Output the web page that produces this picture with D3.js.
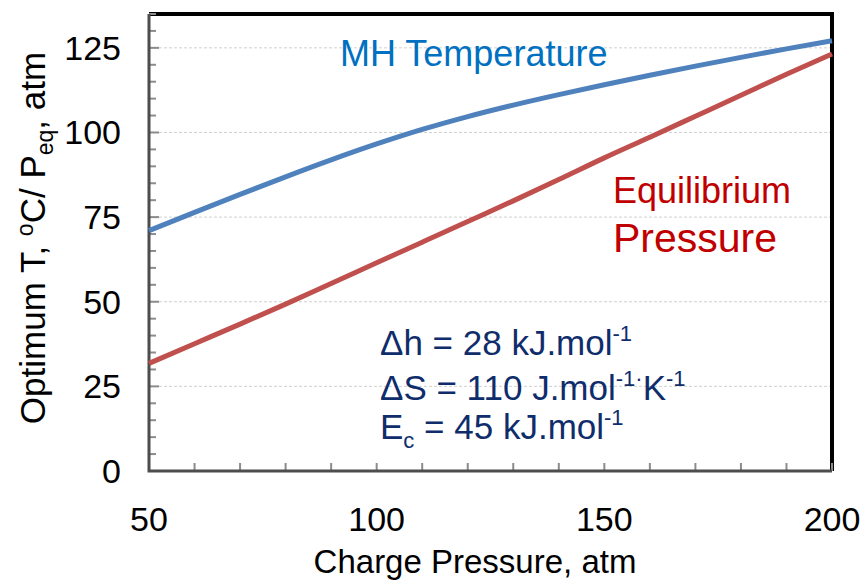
<!DOCTYPE html>
<meta charset="utf-8">
<script src="https://d3js.org/d3.v7.min.js"></script>
<style>
body { margin: 0; background: #fff; }
text { font-family: "Liberation Sans", Arial, sans-serif; }
</style>
<div id="chart"></div>
<script>

// values
var pressure = [50, 60, 70, 80, 90, 100, 110, 120, 130, 140, 150, 160, 170, 180, 190, 200];
var mhTemp   = [71, 76.4, 81.7, 86.9, 91.9, 96.6, 100.9, 104.7, 108.1, 111.2, 114.1, 116.9, 119.6, 122.2, 124.7, 127.1];
var eqPress  = [31.8, 37.6, 43.4, 49.3, 55.4, 61.5, 67.6, 73.7, 79.8, 86.1, 92.5, 98.6, 104.8, 111, 117.2, 123.2];
var xTicks = [50, 100, 150, 200];
var yTicks = [0, 25, 50, 75, 100, 125];

var width = 865, height = 581;
var margin = {top: 14, right: 33, bottom: 110, left: 149};

var svg = d3.select("#chart").append("svg")
  .attr("width", width)
  .attr("height", height);

var x = d3.scaleLinear().domain([50, 200]).range([margin.left, width - margin.right]);
var y = d3.scaleLinear().domain([0, 135]).range([height - margin.bottom, margin.top]);

// dashed gridlines
svg.append("g").selectAll("line")
  .data(yTicks.filter(function(d) { return d > 0; }))
  .enter().append("line")
    .attr("x1", x(50)).attr("x2", x(200))
    .attr("y1", function(d) { return y(d); })
    .attr("y2", function(d) { return y(d); })
    .attr("stroke", "#d0d0d0")
    .attr("stroke-width", 1)
    .attr("stroke-dasharray", "3,2");

// top / right frame
svg.append("path")
  .attr("d", "M" + x(50) + "," + y(135) + "H" + x(200) + "V" + y(0))
  .attr("fill", "none")
  .attr("stroke", "#000")
  .attr("stroke-width", 4);

// inward minor ticks
var xMinor = d3.range(50, 201, 10);
var yMinor = d3.range(0, 136, 5);

svg.append("g").selectAll("line")
  .data(xMinor)
  .enter().append("line")
    .attr("x1", function(d) { return x(d); })
    .attr("x2", function(d) { return x(d); })
    .attr("y1", y(0))
    .attr("y2", y(0) - 8)
    .attr("stroke", "#8c8c8c")
    .attr("stroke-width", 2);

svg.append("g").selectAll("line")
  .data(yMinor)
  .enter().append("line")
    .attr("x1", x(50))
    .attr("x2", function(d) { return x(50) + (d % 25 == 0 ? 10 : 7); })
    .attr("y1", function(d) { return y(d); })
    .attr("y2", function(d) { return y(d); })
    .attr("stroke", "#8c8c8c")
    .attr("stroke-width", 2);

// axis lines
svg.append("path")
  .attr("d", "M" + x(50) + "," + y(135) + "V" + y(0) + "H" + x(200))
  .attr("fill", "none")
  .attr("stroke", "#4d4d4d")
  .attr("stroke-width", 3);

// tick labels
svg.append("g").selectAll("text")
  .data(xTicks)
  .enter().append("text")
    .attr("x", function(d) { return x(d); })
    .attr("y", y(0) + 60)
    .attr("text-anchor", "middle")
    .style("font-size", "34px")
    .text(function(d) { return d; });

svg.append("g").selectAll("text")
  .data(yTicks)
  .enter().append("text")
    .attr("x", x(50) - 28)
    .attr("y", function(d) { return y(d) + 12; })
    .attr("text-anchor", "end")
    .style("font-size", "34px")
    .text(function(d) { return d; });

// axis titles
svg.append("text")
  .attr("x", 475)
  .attr("y", 573)
  .attr("text-anchor", "middle")
  .style("font-size", "33px")
  .text("Charge Pressure, atm");

var yt = svg.append("text")
  .attr("transform", "translate(45,238) rotate(-90)")
  .attr("text-anchor", "middle")
  .style("font-size", "35px");
yt.append("tspan").text("Optimum T, ");
yt.append("tspan").attr("dy", -12).style("font-size", "23px").text("o");
yt.append("tspan").attr("dy", 12).text("C/ P");
yt.append("tspan").attr("dy", 8).style("font-size", "23px").text("eq");
yt.append("tspan").attr("dy", -8).text(", atm");

// curves
var line = d3.line()
  .x(function(d) { return x(d[0]); })
  .y(function(d) { return y(d[1]); })
  .curve(d3.curveMonotoneX);

svg.append("path")
  .datum(d3.zip(pressure, eqPress))
  .attr("d", line)
  .attr("fill", "none")
  .attr("stroke", "#C0504D")
  .attr("stroke-width", 5);

svg.append("path")
  .datum(d3.zip(pressure, mhTemp))
  .attr("d", line)
  .attr("fill", "none")
  .attr("stroke", "#4F81BD")
  .attr("stroke-width", 5);

// series labels
svg.append("text")
  .attr("x", 340).attr("y", 66)
  .attr("fill", "#0070C0")
  .style("font-size", "36px")
  .text("MH Temperature");

svg.append("text")
  .attr("x", 613).attr("y", 203)
  .attr("fill", "#C00000")
  .style("font-size", "36px")
  .text("Equilibrium");

svg.append("text")
  .attr("x", 613).attr("y", 252)
  .attr("fill", "#C00000")
  .style("font-size", "41px")
  .text("Pressure");

// parameters box
var navy = "#0F2D6B";
function sup(t, s) {
  t.append("tspan").attr("dy", -14).style("font-size", "22px").text(s);
  t.append("tspan").attr("dy", 14).text("");
}
var l1 = svg.append("text").attr("x", 380).attr("y", 355).attr("fill", navy).style("font-size", "35px");
l1.append("tspan").text("\u0394h = 28 kJ.mol");
sup(l1, "-1");

var l2 = svg.append("text").attr("x", 380).attr("y", 400).attr("fill", navy).style("font-size", "35px");
l2.append("tspan").text("\u0394S = 110 J.mol");
l2.append("tspan").attr("dy", -14).style("font-size", "22px").text("-1\u00b7");
l2.append("tspan").attr("dy", 14).text("K");
sup(l2, "-1");

var l3 = svg.append("text").attr("x", 380).attr("y", 439).attr("fill", navy).style("font-size", "35px");
l3.append("tspan").text("E");
l3.append("tspan").attr("dy", 9).style("font-size", "22px").text("c");
l3.append("tspan").attr("dy", -9).text(" = 45 kJ.mol");
sup(l3, "-1");

</script>
